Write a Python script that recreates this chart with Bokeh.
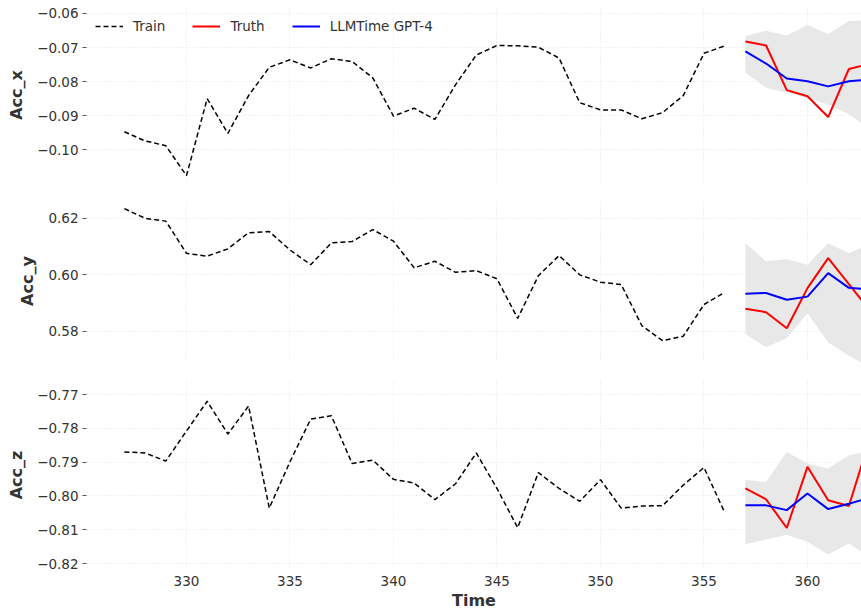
from bokeh.plotting import figure
from bokeh.layouts import column
from bokeh.models import Range1d, FixedTicker, Legend, LegendItem
from bokeh.embed import file_html
from bokeh.resources import INLINE

# ---------------- data ----------------
train_t = [327, 328, 329, 330, 331, 332, 333, 334, 335, 336, 337, 338, 339, 340, 341,
           342, 343, 344, 345, 346, 347, 348, 349, 350, 351, 352, 353, 354, 355, 356]
fc_t = [357, 358, 359, 360, 361, 362, 363]

acc_x_train = [-0.0947, -0.0974, -0.0988, -0.1076, -0.0850, -0.0952, -0.0841, -0.0758, -0.0736, -0.0760,
               -0.0733, -0.0741, -0.0789, -0.0901, -0.0878, -0.0911, -0.0809, -0.0722, -0.0694, -0.0695,
               -0.0699, -0.0731, -0.0862, -0.0883, -0.0883, -0.0909, -0.0891, -0.0841, -0.0717, -0.0695]
acc_x_truth = [-0.0682, -0.0694, -0.0825, -0.0843, -0.0904, -0.0763, -0.0748]
acc_x_pred = [-0.0711, -0.0747, -0.0791, -0.0799, -0.0814, -0.0799, -0.0794]
acc_x_hi = [-0.0666, -0.0651, -0.0665, -0.0634, -0.0660, -0.0622, -0.0620]
acc_x_lo = [-0.0773, -0.0818, -0.0833, -0.0848, -0.0867, -0.0896, -0.0939]

acc_y_train = [0.6233, 0.6199, 0.6189, 0.6075, 0.6065, 0.6091, 0.6148, 0.6152, 0.6087, 0.6035,
               0.6112, 0.6117, 0.6159, 0.6118, 0.6024, 0.6047, 0.6008, 0.6014, 0.5985, 0.5845,
               0.5996, 0.6067, 0.5999, 0.5973, 0.5965, 0.5819, 0.5766, 0.5782, 0.5894, 0.5937]
acc_y_truth = [0.5879, 0.5867, 0.5810, 0.5952, 0.6058, 0.5966, 0.5874]
acc_y_pred = [0.5932, 0.5935, 0.5911, 0.5922, 0.6005, 0.5953, 0.5948]
acc_y_hi = [0.6111, 0.6047, 0.6055, 0.6035, 0.6111, 0.6075, 0.6109]
acc_y_lo = [0.5790, 0.5743, 0.5775, 0.5863, 0.5760, 0.5713, 0.5672]

acc_z_train = [-0.7870, -0.7873, -0.7897, -0.7808, -0.7720, -0.7817, -0.7734, -0.8036, -0.7899, -0.7773,
               -0.7763, -0.7904, -0.7894, -0.7951, -0.7962, -0.8011, -0.7964, -0.7873, -0.7978, -0.8094,
               -0.7931, -0.7978, -0.8016, -0.7952, -0.8036, -0.8030, -0.8029, -0.7968, -0.7916, -0.8049]
acc_z_truth = [-0.7978, -0.8010, -0.8095, -0.7914, -0.8013, -0.8030, -0.7833]
acc_z_pred = [-0.8028, -0.8028, -0.8042, -0.7993, -0.8039, -0.8023, -0.8006]
acc_z_hi = [-0.7952, -0.7959, -0.7870, -0.7904, -0.7919, -0.7880, -0.7867]
acc_z_lo = [-0.8143, -0.8129, -0.8115, -0.8136, -0.8173, -0.8141, -0.8181]

x_ticks = [330, 335, 340, 345, 350, 355, 360]
y_ticks_x = [-0.10, -0.09, -0.08, -0.07, -0.06]
y_ticks_y = [0.58, 0.60, 0.62]
y_ticks_z = [-0.82, -0.81, -0.80, -0.79, -0.78, -0.77]

series_names = ["Train", "Truth", "LLMTime GPT-4"]
panel_labels = ["Acc_x", "Acc_y", "Acc_z"]

# ---------------- styling ----------------
FONT = "DejaVu Sans"
TXT = "#333333"
GRID = "#dddddd"
BAND = "#e8e8e8"

x_range = Range1d(325.17, 362.61)


def minus(v):
    return ("%.2f" % v).replace("-", "\u2212")


def make_panel(label, train, truth, pred, hi, lo, yticks, yr, height, top, bottom, show_x):
    p = figure(width=861, height=height, x_range=x_range, y_range=Range1d(*yr),
               output_backend="svg", toolbar_location=None,
               x_axis_location="below" if show_x else None,
               min_border_left=86, min_border_right=0,
               min_border_top=top, min_border_bottom=bottom)
    p.outline_line_color = None
    p.background_fill_color = "white"
    p.border_fill_color = "white"

    p.varea(x=fc_t, y1=lo, y2=hi, fill_color=BAND)
    r_train = p.line(train_t, train, line_color="black", line_width=1.5, line_dash="5 3")
    r_truth = p.line(fc_t, truth, line_color="red", line_width=2)
    r_pred = p.line(fc_t, pred, line_color="blue", line_width=2)

    ya = p.yaxis[0]
    ya.ticker = FixedTicker(ticks=yticks)
    ya.major_label_overrides = {t: minus(t) for t in yticks}
    ya.axis_line_color = None
    ya.major_tick_line_color = "#555555"
    ya.major_tick_in = 0
    ya.major_tick_out = 4
    ya.minor_tick_line_color = None
    ya.major_label_standoff = 4
    ya.major_label_text_font = FONT
    ya.major_label_text_font_size = "13.5px"
    ya.major_label_text_color = TXT
    ya.axis_label = label
    ya.axis_label_text_font = FONT
    ya.axis_label_text_font_size = "16px"
    ya.axis_label_text_font_style = "bold"
    ya.axis_label_text_color = TXT
    ya.axis_label_standoff = 8

    if show_x:
        xa = p.xaxis[0]
        xa.ticker = FixedTicker(ticks=x_ticks)
        xa.axis_line_color = None
        xa.major_tick_line_color = None
        xa.minor_tick_line_color = None
        xa.major_tick_in = 0
        xa.major_tick_out = 0
        xa.major_label_standoff = 5
        xa.major_label_text_font = FONT
        xa.major_label_text_font_size = "13.5px"
        xa.major_label_text_color = TXT
        xa.axis_label = "Time"
        xa.axis_label_text_font = FONT
        xa.axis_label_text_font_size = "16px"
        xa.axis_label_text_font_style = "bold"
        xa.axis_label_text_color = TXT
        xa.axis_label_standoff = 2

    p.xgrid.ticker = FixedTicker(ticks=x_ticks)
    p.ygrid.ticker = FixedTicker(ticks=yticks)
    for g in (p.xgrid[0], p.ygrid[0]):
        g.grid_line_color = GRID
        g.grid_line_dash = "1 2"
        g.grid_line_width = 0.8
    return p, (r_train, r_truth, r_pred)


p1, rs = make_panel(panel_labels[0], acc_x_train, acc_x_truth, acc_x_pred, acc_x_hi, acc_x_lo,
                    y_ticks_x, (-0.1099, -0.05796), 183, 6, 0, False)
p2, _ = make_panel(panel_labels[1], acc_y_train, acc_y_truth, acc_y_pred, acc_y_hi, acc_y_lo,
                   y_ticks_y, (0.5689, 0.62655), 179, 16, 0, False)
p3, _ = make_panel(panel_labels[2], acc_z_train, acc_z_truth, acc_z_pred, acc_z_hi, acc_z_lo,
                   y_ticks_z, (-0.82207, -0.76556), 250, 17, 42, True)

legend = Legend(items=[LegendItem(label=n, renderers=[r]) for n, r in zip(series_names, rs)],
                location="top_left", orientation="horizontal")
legend.margin = 0
legend.padding = 9
legend.spacing = 27
legend.glyph_width = 28
legend.glyph_height = 22
legend.label_height = 22
legend.label_standoff = 10
legend.label_text_font = FONT
legend.label_text_font_size = "13.5px"
legend.label_text_color = TXT
legend.background_fill_alpha = 0
legend.border_line_alpha = 0
p1.add_layout(legend)

layout = column(p1, p2, p3, spacing=0)
open("out.html", "w").write(file_html(layout, INLINE))
